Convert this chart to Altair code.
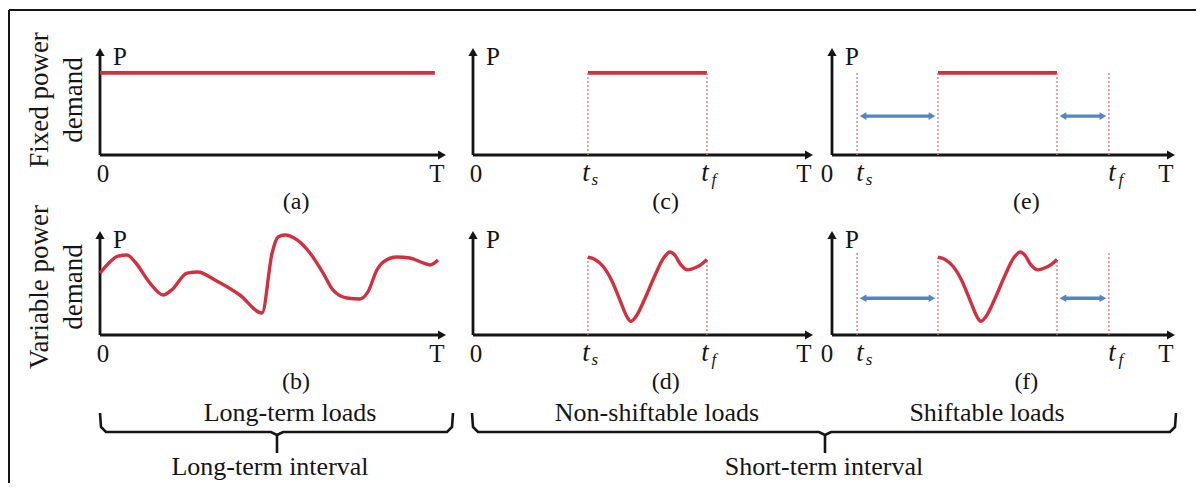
import altair as alt
import pandas as pd

# ---------------- data (local panel units: t along time axis, p along power axis, 0..1) ----------------
row_titles = [["Fixed power", "demand"], ["Variable power", "demand"]]
panel_ids = ["a", "b", "c", "d", "e", "f"]
panel_labels = ["(a)", "(b)", "(c)", "(d)", "(e)", "(f)"]
load_groups = ["Long-term loads", "Non-shiftable loads", "Shiftable loads"]
intervals = ["Long-term interval", "Short-term interval"]

fixed_level = 0.76          # fixed power demand level
fixed_long_end = 0.965      # end of long-term fixed load

# (b) long-term variable load profile
long_t = [0.0, 0.023, 0.052, 0.078, 0.101, 0.144, 0.182, 0.207, 0.251, 0.282, 0.331, 0.403,
          0.467, 0.496, 0.513, 0.533, 0.568, 0.605, 0.643, 0.671, 0.712, 0.749, 0.772, 0.798,
          0.816, 0.856, 0.893, 0.931, 0.951, 0.974]
long_p = [0.59, 0.677, 0.752, 0.762, 0.695, 0.495, 0.381, 0.43, 0.59, 0.60, 0.524, 0.381,
          0.21, 0.781, 0.933, 0.952, 0.905, 0.781, 0.59, 0.429, 0.352, 0.343, 0.41, 0.619,
          0.695, 0.743, 0.733, 0.686, 0.667, 0.714]

# (d)/(f) short-term variable load profile, u = fraction of the load's duration
short_u = [0.0, 0.06, 0.13, 0.2, 0.27, 0.33, 0.36, 0.4, 0.48, 0.56, 0.64, 0.69, 0.73, 0.78,
           0.84, 0.9, 0.95, 1.0]
short_p = [0.74, 0.72, 0.65, 0.52, 0.33, 0.17, 0.13, 0.17, 0.35, 0.56, 0.74, 0.79, 0.76, 0.67,
           0.62, 0.64, 0.67, 0.72]

nonshift_window = [0.337, 0.686]   # t_s, t_f for non-shiftable loads
shift_window = [0.073, 0.805]      # t_s, t_f for shiftable loads
shift_run = [0.308, 0.654]         # scheduled run of the shiftable load
shift_arrow_level = {"e": 0.36, "f": 0.35}
shift_window_height = 0.76

# ---------------- layout (page pixels) ----------------
W, H = 1188, 475
FR = {  # origin x, origin y, time-axis length, power-axis length
    "a": (100, 155, 347, 108), "b": (100, 335, 347, 105),
    "c": (473, 155, 341, 108), "d": (473, 335, 341, 105),
    "e": (832, 155, 344, 108), "f": (832, 335, 344, 105),
}


def pt(k, t, p):
    ox, oy, lx, ly = FR[k]
    return ox + t * lx, oy - p * ly


segs, pts, lines, texts, itexts = [], [], [], [], []


def seg(kind, k, t1, p1, t2, p2):
    x1, y1 = pt(k, t1, p1)
    x2, y2 = pt(k, t2, p2)
    segs.append(dict(kind=kind, x=x1, y=y1, x2=x2, y2=y2))


BLACK, RED, BLUE, DOT = "#151515", "#d3303f", "#4f86c6", "#e2727c"

# axes with arrowheads
for k in panel_ids:
    ox, oy, lx, ly = FR[k]
    segs.append(dict(kind="axis", x=ox, y=oy, x2=ox + lx - 6, y2=oy))
    segs.append(dict(kind="axis", x=ox, y=oy, x2=ox, y2=oy - ly + 6))
    pts.append(dict(x=ox + lx - 5, y=oy, shape="triangle-right", color=BLACK, size=85))
    pts.append(dict(x=ox, y=oy - ly + 5, shape="triangle-up", color=BLACK, size=85))

# fixed loads
seg("red", "a", 0, fixed_level, fixed_long_end, fixed_level)
seg("red", "c", nonshift_window[0], fixed_level, nonshift_window[1], fixed_level)
for t in nonshift_window:
    seg("dot", "c", t, 0, t, fixed_level)
seg("red", "e", shift_run[0], fixed_level, shift_run[1], fixed_level)
for t in shift_run:
    seg("dot", "e", t, 0, t, fixed_level)
for t in shift_window:
    seg("dot", "e", t, 0, t, shift_window_height)

# variable loads
for t, p in zip(long_t, long_p):
    x, y = pt("b", t, p)
    lines.append(dict(g="b", x=x, y=y, o=len(lines)))
for k, (t0, t1) in (("d", nonshift_window), ("f", shift_run)):
    for u, p in zip(short_u, short_p):
        x, y = pt(k, t0 + u * (t1 - t0), p)
        lines.append(dict(g=k, x=x, y=y, o=len(lines)))
    seg("dot", k, t0, 0, t0, short_p[0])
    seg("dot", k, t1, 0, t1, short_p[-1])
for t in shift_window:
    seg("dot", "f", t, 0, t, 0.78)

# shifting arrows
for k in ("e", "f"):
    lv = shift_arrow_level[k]
    lx = FR[k][2]
    for a, b in ((shift_window[0], shift_run[0]), (shift_run[1], shift_window[1])):
        a2, b2 = a + 3 / lx, b - 3 / lx
        seg("blue", k, a2 + 4 / lx, lv, b2 - 4 / lx, lv)
        x, y = pt(k, a2 + 3 / lx, lv)
        pts.append(dict(x=x, y=y, shape="triangle-left", color=BLUE, size=60))
        x, y = pt(k, b2 - 3 / lx, lv)
        pts.append(dict(x=x, y=y, shape="triangle-right", color=BLUE, size=60))

# axis texts
for k, lab in zip(panel_ids, panel_labels):
    ox, oy, lx, ly = FR[k]
    zero_dx = -5 if k in ("e", "f") else 3
    texts.append(dict(x=ox + 20, y=oy - ly + 10, text="P", size=25, angle=0))
    texts.append(dict(x=ox + zero_dx, y=oy + 19, text="0", size=25, angle=0))
    texts.append(dict(x=ox + lx - 10, y=oy + 19, text="T", size=25, angle=0))
    texts.append(dict(x=ox + 0.565 * lx, y=oy + 47, text=lab, size=24, angle=0))
    if k in ("c", "d", "e", "f"):
        win = nonshift_window if k in ("c", "d") else shift_window
        shift = 0 if k in ("c", "d") else 5
        for t, sub in zip(win, ["s", "f"]):
            x = ox + t * lx + shift
            itexts.append(dict(x=x - 2, y=oy + 18, text="t", size=27))
            itexts.append(dict(x=x + 7, y=oy + 25, text=sub, size=17))

# row titles
for (l1, l2), yc in zip(row_titles, [100, 287]):
    texts.append(dict(x=40, y=yc, text=l1, size=27, angle=270))
    texts.append(dict(x=74, y=yc, text=l2, size=27, angle=270))

# group labels and braces
for lab, xc in zip(load_groups, [290, 657, 987]):
    texts.append(dict(x=xc, y=413, text=lab, size=26, angle=0))
for lab, xc in zip(intervals, [270, 824]):
    texts.append(dict(x=xc, y=467, text=lab, size=26, angle=0))

braces = [(100, 453, 277), (472, 1176, 825)]
for i, (x0, x1, xc) in enumerate(braces):
    for x, y in [(x0, 413), (x0 + 1, 427), (x0 + 6, 432), (xc - 6, 432), (xc, 435),
                 (xc + 6, 432), (x1 - 6, 432), (x1 - 1, 427), (x1, 413)]:
        lines.append(dict(g=f"brace{i}", x=x, y=y, o=len(lines)))
    segs.append(dict(kind="brace", x=xc, y=434, x2=xc, y2=453))

# outer frame
segs.append(dict(kind="frame", x=9, y=10, x2=1197, y2=10))
segs.append(dict(kind="frame", x=9, y=10, x2=9, y2=500))
segs.append(dict(kind="frame", x=1197, y=10, x2=1197, y2=500))

seg_df = pd.DataFrame(segs)
pt_df = pd.DataFrame(pts)
line_df = pd.DataFrame(lines)
txt_df = pd.DataFrame(texts)
itxt_df = pd.DataFrame(itexts)

xs = alt.Scale(domain=[8, 8 + W], nice=False, zero=False)
ys = alt.Scale(domain=[8, 8 + H], nice=False, zero=False, reverse=True)
X = lambda f="x": alt.X(f"{f}:Q", scale=xs, axis=None)
Y = lambda f="y": alt.Y(f"{f}:Q", scale=ys, axis=None)

styles = {
    "axis": dict(color=BLACK, strokeWidth=2.8),
    "red": dict(color=RED, strokeWidth=3.8),
    "dot": dict(color=DOT, strokeWidth=1.3, strokeDash=[2, 2]),
    "blue": dict(color=BLUE, strokeWidth=3.4),
    "brace": dict(color=BLACK, strokeWidth=2.6),
    "frame": dict(color=BLACK, strokeWidth=2),
}
layers = []
for kind, st in styles.items():
    layers.append(
        alt.Chart(seg_df[seg_df.kind == kind]).mark_rule(strokeCap="butt", **st).encode(
            x=X(), y=Y(), x2="x2:Q", y2="y2:Q")
    )

curve_df = line_df[line_df.g.isin(["b", "d", "f"])]
brace_df = line_df[line_df.g.str.startswith("brace")]
layers.append(
    alt.Chart(curve_df).mark_line(color=RED, strokeWidth=3.4, interpolate="monotone").encode(
        x=X(), y=Y(), detail="g:N", order="o:Q")
)
layers.append(
    alt.Chart(brace_df).mark_line(color=BLACK, strokeWidth=2.6, interpolate="linear").encode(
        x=X(), y=Y(), detail="g:N", order="o:Q")
)
layers.append(
    alt.Chart(pt_df).mark_point(filled=True, opacity=1, strokeWidth=0).encode(
        x=X(), y=Y(),
        shape=alt.Shape("shape:N", scale=None),
        color=alt.Color("color:N", scale=None),
        size=alt.Size("size:Q", scale=None))
)
layers.append(
    alt.Chart(txt_df).mark_text(font="Liberation Serif", color="#151515", align="center",
                                baseline="middle").encode(
        x=X(), y=Y(), text="text:N",
        size=alt.Size("size:Q", scale=None),
        angle=alt.Angle("angle:Q", scale=None))
)
layers.append(
    alt.Chart(itxt_df).mark_text(font="Liberation Serif", fontStyle="italic", color="#151515",
                                 align="center", baseline="middle").encode(
        x=X(), y=Y(), text="text:N",
        size=alt.Size("size:Q", scale=None))
)

chart = alt.layer(*layers).properties(
    width=W, height=H, padding=0, autosize=alt.AutoSizeParams(type="none"),
    background="white"
).configure_view(stroke=None)

chart.save("out.html", embed_options={"renderer": "svg", "actions": False})
